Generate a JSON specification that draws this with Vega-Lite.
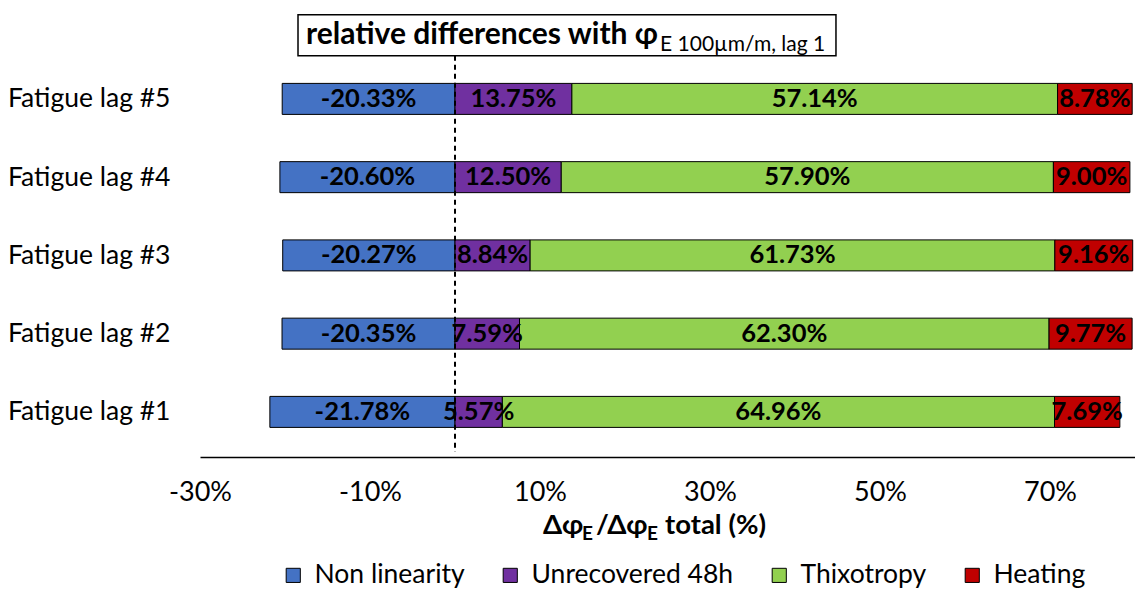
{
  "$schema": "https://vega.github.io/schema/vega-lite/v6.json",
  "width": 935,
  "height": 457,
  "autosize": {"type": "none"},
  "padding": {"left": 200, "top": 0, "right": 0, "bottom": 137},
  "config": {
    "font": "Lato",
    "view": {"stroke": null},
    "locale": {"number": {"decimal": ".", "thousands": ",", "grouping": [3], "currency": ["", ""], "minus": "-"}}
  },
  "layer": [
    {
      "data": {"values": [
        {"lag": 1, "cat": "Non linearity", "k": 1, "v": -0.2178},
        {"lag": 1, "cat": "Unrecovered 48h", "k": 2, "v": 0.0557},
        {"lag": 1, "cat": "Thixotropy", "k": 3, "v": 0.6496},
        {"lag": 1, "cat": "Heating", "k": 4, "v": 0.0769},
        {"lag": 2, "cat": "Non linearity", "k": 1, "v": -0.2035},
        {"lag": 2, "cat": "Unrecovered 48h", "k": 2, "v": 0.0759},
        {"lag": 2, "cat": "Thixotropy", "k": 3, "v": 0.6230},
        {"lag": 2, "cat": "Heating", "k": 4, "v": 0.0977},
        {"lag": 3, "cat": "Non linearity", "k": 1, "v": -0.2027},
        {"lag": 3, "cat": "Unrecovered 48h", "k": 2, "v": 0.0884},
        {"lag": 3, "cat": "Thixotropy", "k": 3, "v": 0.6173},
        {"lag": 3, "cat": "Heating", "k": 4, "v": 0.0916},
        {"lag": 4, "cat": "Non linearity", "k": 1, "v": -0.2060},
        {"lag": 4, "cat": "Unrecovered 48h", "k": 2, "v": 0.1250},
        {"lag": 4, "cat": "Thixotropy", "k": 3, "v": 0.5790},
        {"lag": 4, "cat": "Heating", "k": 4, "v": 0.0900},
        {"lag": 5, "cat": "Non linearity", "k": 1, "v": -0.2033},
        {"lag": 5, "cat": "Unrecovered 48h", "k": 2, "v": 0.1375},
        {"lag": 5, "cat": "Thixotropy", "k": 3, "v": 0.5714},
        {"lag": 5, "cat": "Heating", "k": 4, "v": 0.0878}
      ]},
      "layer": [
        {
          "mark": {"type": "bar", "orient": "horizontal", "size": 31, "stroke": "black", "strokeWidth": 1},
          "encoding": {
            "x": {
              "field": "v", "type": "quantitative", "stack": "zero",
              "scale": {"domain": [-0.3, 0.8], "nice": false, "zero": false},
              "axis": {
                "title": null, "values": [-0.3, -0.1, 0.1, 0.3, 0.5, 0.7], "format": ".0%",
                "grid": false, "ticks": false, "tickSize": 0, "domainColor": "black", "domainWidth": 1.5,
                "labelFontSize": 27, "labelColor": "black", "labelPadding": 22, "labelFont": "Lato",
                "labelFlush": false, "labelOverlap": false
              }
            },
            "y": {
              "field": "lag", "type": "quantitative",
              "scale": {"domain": [0.4875, 6.2], "nice": false, "zero": false},
              "axis": {
                "title": null, "values": [1, 2, 3, 4, 5], "labelExpr": "'Fatigue lag #' + datum.value",
                "grid": false, "ticks": false, "tickSize": 0, "domain": false,
                "labelFontSize": 26.5, "labelColor": "black", "labelPadding": 30, "labelFont": "Lato",
                "labelFlush": false, "labelOverlap": false
              }
            },
            "color": {
              "field": "cat", "type": "nominal",
              "scale": {"domain": ["Non linearity", "Unrecovered 48h", "Thixotropy", "Heating"], "range": ["#4472C4", "#7030A0", "#92D050", "#C00000"]},
              "legend": {
                "title": null, "orient": "none", "direction": "horizontal", "legendX": 80, "legendY": 562,
                "symbolType": "square", "symbolSize": 200, "symbolStrokeColor": "black", "symbolStrokeWidth": 1,
                "symbolOpacity": 1, "labelFontSize": 26.5, "labelColor": "black", "labelFont": "Lato",
                "labelLimit": 0, "columnPadding": 32, "labelOffset": 8
              }
            },
            "order": {"field": "k", "type": "quantitative"}
          }
        },
        {
          "mark": {"type": "text", "fontSize": 25.5, "fontWeight": "bold", "color": "black", "baseline": "middle", "align": "center"},
          "encoding": {
            "x": {"field": "v", "type": "quantitative", "stack": "zero", "bandPosition": 0.5},
            "y": {"field": "lag", "type": "quantitative"},
            "detail": {"field": "cat", "type": "nominal"},
            "text": {"field": "v", "type": "quantitative", "format": ".2%"},
            "order": {"field": "k", "type": "quantitative"}
          }
        }
      ]
    },
    {
      "data": {"values": [{}]},
      "mark": {"type": "rule", "strokeDash": [5, 4], "strokeWidth": 2, "color": "black"},
      "encoding": {
        "x": {"datum": 0, "type": "quantitative"},
        "y": {"datum": 5.55, "type": "quantitative"},
        "y2": {"datum": 0.4875}
      }
    },
    {
      "data": {"values": [{}]},
      "mark": {"type": "rect", "fill": "white", "stroke": "black", "strokeWidth": 1.5},
      "encoding": {
        "x": {"datum": -0.1847, "type": "quantitative"},
        "x2": {"datum": 0.4482},
        "y": {"datum": 6.075, "type": "quantitative"},
        "y2": {"datum": 5.55}
      }
    },
    {
      "data": {"values": [{}]},
      "mark": {"type": "text", "fontSize": 30, "fontWeight": "bold", "align": "left", "baseline": "alphabetic", "color": "black"},
      "encoding": {
        "x": {"datum": -0.1753, "type": "quantitative"},
        "y": {"datum": 5.7, "type": "quantitative"},
        "text": {"value": "relative differences with φ"}
      }
    },
    {
      "data": {"values": [{}]},
      "mark": {"type": "text", "fontSize": 21, "align": "left", "baseline": "alphabetic", "color": "black"},
      "encoding": {
        "x": {"datum": 0.2412, "type": "quantitative"},
        "y": {"datum": 5.6125, "type": "quantitative"},
        "text": {"value": "E 100µm/m, lag 1"}
      }
    },
    {
      "data": {"values": [
        {"t": "Δφ", "p": 0.1035},
        {"t": "/Δφ", "p": 0.1659},
        {"t": "total (%)", "p": 0.2471}
      ]},
      "mark": {"type": "text", "fontSize": 27.5, "fontWeight": "bold", "align": "left", "baseline": "alphabetic", "color": "black"},
      "encoding": {
        "x": {"field": "p", "type": "quantitative"},
        "y": {"datum": -0.5625, "type": "quantitative"},
        "text": {"field": "t"}
      }
    },
    {
      "data": {"values": [
        {"t": "E", "p": 0.1494},
        {"t": "E", "p": 0.2259}
      ]},
      "mark": {"type": "text", "fontSize": 19, "fontWeight": "bold", "align": "left", "baseline": "alphabetic", "color": "black"},
      "encoding": {
        "x": {"field": "p", "type": "quantitative"},
        "y": {"datum": -0.6375, "type": "quantitative"},
        "text": {"field": "t"}
      }
    }
  ]
}
